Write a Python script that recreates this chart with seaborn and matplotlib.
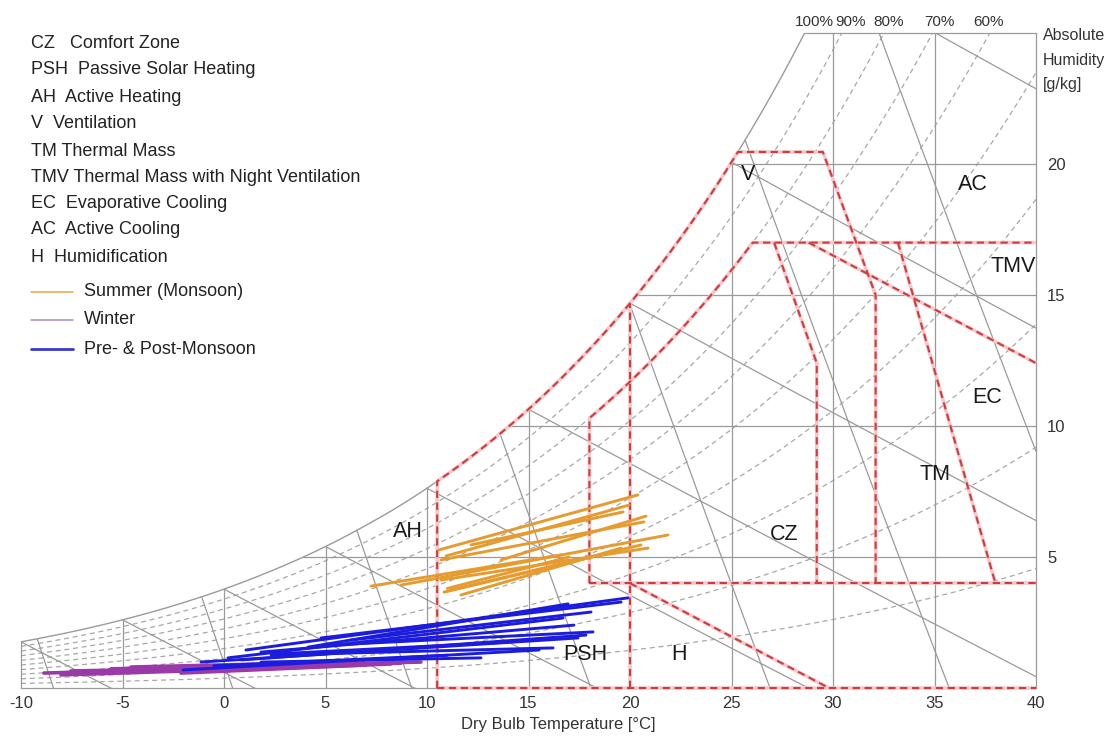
import numpy as np
import pandas as pd
import matplotlib
matplotlib.use('Agg')
import matplotlib.pyplot as plt
import seaborn as sns
from matplotlib.lines import Line2D

# saturation vapour pressure over water [hPa], -10..40 degC, 1 degC steps
sat_temp = list(range(-10, 41))
sat_press = [2.86, 3.10, 3.35, 3.62, 3.91, 4.22, 4.55, 4.90, 5.28, 5.68,
             6.11, 6.57, 7.06, 7.58, 8.13, 8.72, 9.35, 10.02, 10.72, 11.47,
             12.27, 13.12, 14.02, 14.97, 15.98, 17.04, 18.17, 19.37, 20.63, 21.96,
             23.37, 24.86, 26.43, 28.09, 29.83, 31.67, 33.61, 35.65, 37.80, 40.06,
             42.43, 44.93, 47.55, 50.30, 53.19, 56.22, 59.40, 62.74, 66.24, 69.91, 73.75]

rh_levels = [0.1, 0.2, 0.3, 0.4, 0.5, 0.6, 0.7, 0.8, 0.9]
wetbulb_temps = [-10, -5, 0, 5, 10, 15, 20, 25, 30]
volumes = [0.75, 0.775, 0.80, 0.825, 0.85, 0.875, 0.90]
temp_grid = [-10, -5, 0, 5, 10, 15, 20, 25, 30, 35]
hum_grid = [5, 10, 15, 20, 25]

rh_labels = ['100%', '90%', '80%', '70%', '60%']
rh_label_t = [29.06, 30.84, 32.76, 35.22, 37.64]

# bioclimatic zones (T degC, w g/kg)
psh_bounds = [10.5, 20.0]
v_top = 20.46
v_edge = [(29.5, 20.46), (32.1, 15.0), (32.1, 4.0)]
cz_low_t = 18.0
cz_rh = 0.8
cz_top = 17.0
cz_right = [(27.1, 17.0), (29.2, 12.4), (29.2, 4.0)]
tmv_edge = [(28.8, 17.0), (40.0, 12.4)]
tm_edge = [(33.2, 17.0), (38.0, 4.0)]
h_edge = [(20.0, 4.0), (29.8, 0.0)]
base_hum = 4.0

zone_names = ['AH', 'PSH', 'H', 'CZ', 'TM', 'EC', 'TMV', 'AC', 'V']
zone_t = [9.06, 17.8, 22.4, 27.6, 35.0, 37.6, 38.9, 36.9, 25.8]
zone_w = [5.99, 1.26, 1.26, 5.84, 8.13, 11.1, 16.07, 19.2, 19.6]

# daily climate lines (T1, w1, T2, w2)
summer = [(10.59, 5.27, 20.39, 7.37), (10.94, 5.04, 19.95, 6.98), (12.17, 5.46, 19.66, 6.72),
          (10.69, 4.89, 20.69, 6.34), (13.65, 4.89, 20.79, 6.56), (8.72, 3.93, 21.87, 5.84),
          (10.69, 4.12, 20.89, 5.34), (10.84, 3.66, 18.57, 5.08), (11.18, 3.74, 20.54, 5.46),
          (7.24, 3.89, 16.60, 5.08), (11.67, 3.55, 19.56, 5.34), (11.0, 3.80, 17.0, 5.00)]
prepost = [(1.08, 1.45, 19.90, 3.44), (4.78, 1.91, 19.56, 3.28), (4.14, 1.56, 16.95, 3.21),
           (0.20, 1.15, 16.70, 2.67), (1.82, 1.37, 17.24, 2.40), (5.27, 1.64, 18.18, 2.14),
           (0.84, 1.07, 17.83, 2.02), (-1.13, 0.99, 17.44, 1.91), (2.32, 1.26, 16.21, 1.53),
           (-2.02, 0.69, 15.52, 1.45), (1.82, 0.99, 12.66, 1.15), (6.26, 1.83, 18.08, 2.90),
           (2.5, 1.30, 14.0, 1.75), (-0.5, 0.85, 11.0, 1.25)]
winter = [(-8.87, 0.57, 8.72, 0.95), (-7.54, 0.65, 5.27, 0.84), (-5.57, 0.73, 9.70, 0.99),
          (-2.12, 0.57, 8.23, 0.92), (-4.58, 0.80, 3.79, 0.95), (-8.03, 0.50, 1.33, 0.73),
          (-1.0, 0.65, 7.0, 0.88)]

seasons = ['Summer (Monsoon)', 'Winter', 'Pre- & Post-Monsoon']
season_colors = ['#e59b2e', '#9a3aa8', '#1c1cdc']

key_text = ['CZ   Comfort Zone', 'PSH  Passive Solar Heating', 'AH  Active Heating',
            'V  Ventilation', 'TM Thermal Mass', 'TMV Thermal Mass with Night Ventilation',
            'EC  Evaporative Cooling', 'AC  Active Cooling', 'H  Humidification']

sns.set_style('white')
plt.rcParams['font.family'] = ['Liberation Sans', 'DejaVu Sans']

P = 1013.25
tf = np.linspace(-10, 40, 2001)
es = np.exp(np.interp(tf, sat_temp, np.log(sat_press)))
ws = 622 * es / (P - es)


def sat_at(t):
    return np.interp(t, tf, ws)


def rh_curve(rh):
    e = rh * es
    return 622 * e / (P - e)


fig = plt.figure(figsize=(11.12, 7.38), dpi=100)
ax = fig.add_axes([21 / 1112, 50 / 738, 1015 / 1112, 655 / 738])
ax.set_xlim(-10, 40)
ax.set_ylim(0, 25)

grey = '#9a9a9a'
# relative humidity curves
for rh in rh_levels:
    ax.plot(tf, rh_curve(rh), color='#a8a8a8', lw=0.9, ls=(0, (4, 3)), zorder=1)
# saturation curve
ax.plot(tf, ws, color=grey, lw=1.0, zorder=2)
# vertical temperature lines
for t in temp_grid:
    ax.plot([t, t], [0, min(sat_at(t), 25)], color=grey, lw=0.9, zorder=2, clip_on=False)
# horizontal humidity lines
for w in hum_grid:
    t0 = np.interp(w, ws, tf)
    ax.plot([t0, 40], [w, w], color=grey, lw=0.9, zorder=2, clip_on=False)
# wet bulb lines
for twb in wetbulb_temps:
    wsat = sat_at(twb) / 1000
    tt = np.linspace(twb, 40, 400)
    ww = ((2501 - 2.326 * twb) * wsat - 1.006 * (tt - twb)) / (2501 + 1.86 * tt - 4.186 * twb)
    ax.plot(tt, ww * 1000, color=grey, lw=0.9, zorder=2)
# specific volume lines
for v in volumes:
    wv = (v * 101.325 / (0.287042 * (tf + 273.15)) - 1) / 1.607858 * 1000
    diff = wv - ws
    t0 = np.interp(0, -diff, tf)
    tt = np.linspace(t0, 40, 400)
    wv = (v * 101.325 / (0.287042 * (tt + 273.15)) - 1) / 1.607858 * 1000
    ax.plot(tt, wv, color=grey, lw=0.9, zorder=2)

for s in ['left', 'top']:
    ax.spines[s].set_visible(False)
for s in ['bottom', 'right']:
    ax.spines[s].set_color(grey)
    ax.spines[s].set_linewidth(0.9)

# red zone boundaries
red = '#cf3b3f'


def red_line(pts):
    pts = np.asarray(pts)
    ax.plot(pts[:, 0], pts[:, 1], color='#f5c9c9', lw=2.6, zorder=3, clip_on=False, solid_capstyle='butt')
    ax.plot(pts[:, 0], pts[:, 1], color=red, lw=1.5, ls=(0, (3.5, 2.2)), zorder=4, clip_on=False)


t_v = np.interp(v_top, ws, tf)
sel = (tf >= psh_bounds[0]) & (tf <= t_v)
outer = [(psh_bounds[0], 0.0)] + list(zip(tf[sel], ws[sel])) + [(t_v, v_top)] + v_edge
red_line(outer)
red_line([(psh_bounds[1], 0.0), (psh_bounds[1], sat_at(psh_bounds[1]))])
cz_w = rh_curve(cz_rh)
t_top = np.interp(cz_top, cz_w, tf)
sel = (tf >= cz_low_t) & (tf <= t_top)
cz = [(cz_low_t, base_hum)] + list(zip(tf[sel], cz_w[sel])) + [(t_top, cz_top), (40, cz_top)]
red_line(cz)
red_line(cz_right)
red_line([(cz_low_t, base_hum), (40, base_hum)])
red_line(h_edge)
red_line([(psh_bounds[0], 0.0), (40, 0.0)])
red_line(tmv_edge)
red_line(tm_edge)

# climate lines
for segs, col, lw in [(winter, season_colors[1], 2.6),
                      (prepost, season_colors[2], 2.1),
                      (summer, season_colors[0], 2.1)]:
    rows = []
    for i, (t1, w1, t2, w2) in enumerate(segs):
        rows.append({'seg': i, 'T': t1, 'w': w1})
        rows.append({'seg': i, 'T': t2, 'w': w2})
    d = pd.DataFrame(rows)
    sns.lineplot(data=d, x='T', y='w', units='seg', estimator=None, sort=False,
                 color=col, lw=lw, legend=False, ax=ax, zorder=5)

# zone labels
for n, t, w in zip(zone_names, zone_t, zone_w):
    ax.text(t, w, n, ha='center', va='center', fontsize=15.5, color='#1a1a1a', zorder=6)

# RH labels on top
for lab, t in zip(rh_labels, rh_label_t):
    ax.text(t, 25.42, lab, ha='center', va='center', fontsize=11, color='#333333', clip_on=False)

# axes ticks
ax.set_xticks(range(-10, 41, 5))
ax.set_xticklabels([str(t) for t in range(-10, 41, 5)])
ax.yaxis.tick_right()
ax.set_yticks([5, 10, 15, 20])
ax.tick_params(axis='x', length=0, pad=6, labelsize=12, colors='#333333')
ax.tick_params(axis='y', length=0, pad=8, labelsize=12, colors='#333333')
ax.set_xlabel('Dry Bulb Temperature [°C]', fontsize=12, color='#333333')
ax.xaxis.set_label_coords((558 - 21) / 1015, -0.044)
ax.set_ylabel('')

for i, line in enumerate(['Absolute', 'Humidity', '[g/kg]']):
    fig.text(1043 / 1112, 1 - (35 + 25 * i) / 738, line, ha='left', va='center',
             fontsize=11.5, color='#333333')

# key text
key_y = [43, 70, 97, 124, 151, 177, 203, 230, 257]
for txt, y in zip(key_text, key_y):
    fig.text(31 / 1112, 1 - y / 738, txt, ha='left', va='center', fontsize=13, color='#222222')

leg_y = [292, 320, 349]
leg_colors = ['#e6a84a', '#a88cc8', '#3a3ac8']
leg_lw = [1.1, 1.1, 2.0]
for s, y, c, lw in zip(seasons, leg_y, leg_colors, leg_lw):
    fig.add_artist(Line2D([31 / 1112, 73 / 1112], [1 - y / 738] * 2, color=c, lw=lw,
                          transform=fig.transFigure))
    fig.text(84 / 1112, 1 - y / 738, s, ha='left', va='center', fontsize=13, color='#222222')

fig.savefig('out.png', dpi=100)
